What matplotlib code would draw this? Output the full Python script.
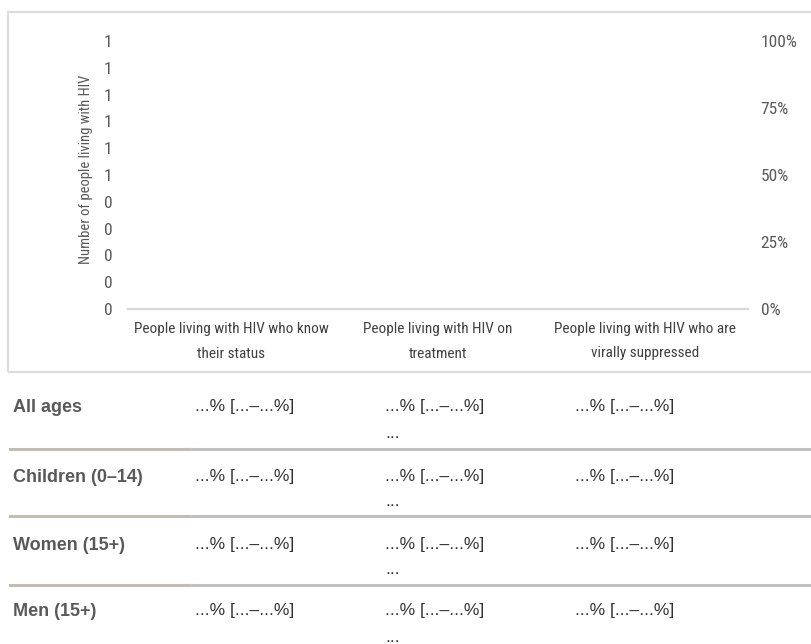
import numpy as np
import matplotlib.pyplot as plt
from matplotlib import font_manager
from matplotlib.patches import Rectangle
from matplotlib.lines import Line2D

# chart data (empty template: no bars)
categories = ["People living with HIV who know\ntheir status",
              "People living with HIV on\ntreatment",
              "People living with HIV who are\nvirally suppressed"]
left_ticks = np.linspace(0, 1, 11)
right_ticks = [0, 0.25, 0.5, 0.75, 1.0]
right_labels = ["0%", "25%", "50%", "75%", "100%"]

# table under the chart
row_labels = ["All ages", "Children (0\u201314)", "Women (15+)", "Men (15+)"]
row_values = ["...% [...\u2013...%]", "...% [...\u2013...%]", "...% [...\u2013...%]"]
row_note = "..."

# condensed face if there is one, otherwise a plain sans a bit smaller
narrow, scale = "Liberation Sans", 0.82
for name in ["Roboto Condensed", "Liberation Sans Narrow", "Open Sans Condensed"]:
    try:
        font_manager.findfont(font_manager.FontProperties(family=name), fallback_to_default=False)
        narrow, scale = name, 1.0
        break
    except ValueError:
        pass

W, H = 811, 644
fig = plt.figure(figsize=(W / 100, H / 100), dpi=100)


def fx(px):
    return px / W


def fy(py):
    return 1 - py / H


# outer box of the chart
fig.patches.append(Rectangle((fx(8), fy(372)), fx(820) - fx(8), fy(12) - fy(372),
                             transform=fig.transFigure, fill=False,
                             edgecolor="#dcdcdc", linewidth=1.6))

ax = fig.add_axes([fx(128), fy(309), fx(748) - fx(128), fy(41) - fy(309)])
x = np.arange(len(categories))
ax.set_xlim(-0.5, len(categories) - 0.5)
ax.set_ylim(0, 1)
for s in ["top", "right", "left"]:
    ax.spines[s].set_visible(False)
ax.spines["bottom"].set_color("#d9d9d9")
ax.spines["bottom"].set_linewidth(1.6)

tick_font = dict(family=narrow, fontsize=12.5 * scale, color="#595959")
ax.set_yticks(left_ticks)
ax.set_yticklabels([str(int(np.floor(v + 0.5))) for v in left_ticks], **tick_font)
ax.tick_params(axis="y", length=0, pad=11)
ax.set_xticks(x)
ax.set_xticklabels(categories, family=narrow, fontsize=11 * scale,
                   color="#404040", linespacing=2.0 / scale)
ax.tick_params(axis="x", length=0, pad=9)
ax.set_ylabel("Number of people living with HIV", family=narrow,
              fontsize=10.5 * scale, color="#595959")
ax.yaxis.set_label_coords(-0.057, 0.522)

ax2 = ax.twinx()
ax2.set_ylim(0, 1)
for s in ax2.spines.values():
    s.set_visible(False)
ax2.set_yticks(right_ticks)
ax2.set_yticklabels(right_labels, **tick_font)
ax2.tick_params(axis="y", length=0, pad=9)

# table rows
row_y = [406, 475, 543, 610]
col_x = [195, 385, 575]
sep_y = [449, 516, 585]
for i, lab in enumerate(row_labels):
    fig.text(fx(13), fy(row_y[i] + 2), lab, family="Liberation Sans", fontweight="bold",
             fontsize=13, color="#595959", va="center", ha="left")
    for j, v in enumerate(row_values):
        fig.text(fx(col_x[j]), fy(row_y[i] + 1), v, family="Liberation Sans",
                 fontsize=12.5, color="#333333", va="center", ha="left")
    fig.text(fx(col_x[1]), fy(row_y[i] + 27), row_note, family="Liberation Sans",
             fontsize=12.5, color="#333333", va="center", ha="left")
for yy in sep_y:
    fig.lines.append(Line2D([fx(10), fx(190)], [fy(yy), fy(yy)], transform=fig.transFigure,
                            color="#c2bcb3", linewidth=2.2))
    fig.lines.append(Line2D([fx(190), fx(811)], [fy(yy), fy(yy)], transform=fig.transFigure,
                            color="#c0c0c0", linewidth=2.2))

fig.savefig("out.png", dpi=100)
